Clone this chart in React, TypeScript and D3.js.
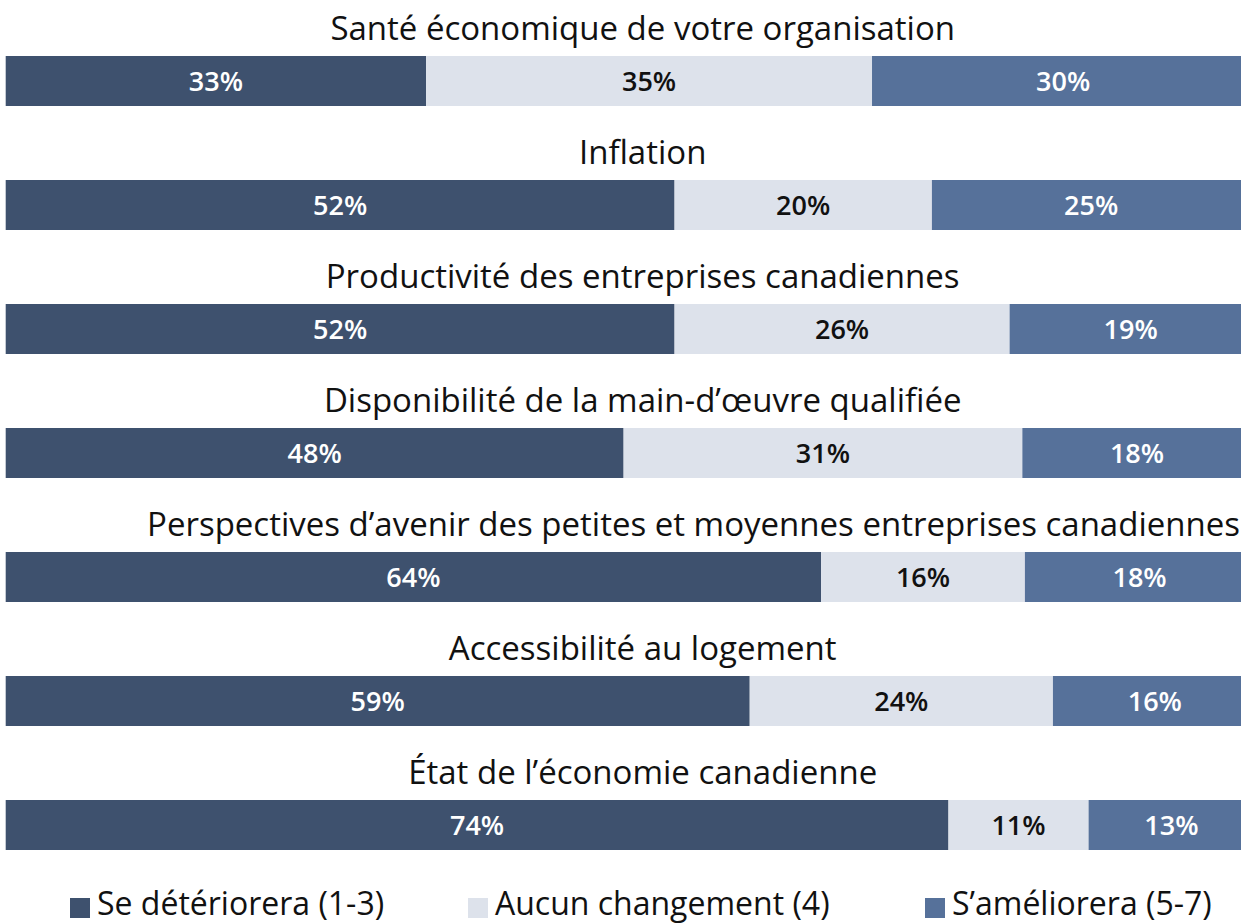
import React, { useEffect, useRef } from 'react';
import * as d3 from 'd3';

// survey items, top to bottom
const topics = [
  'Santé économique de votre organisation',
  'Inflation',
  'Productivité des entreprises canadiennes',
  'Disponibilité de la main-d’œuvre qualifiée',
  'Perspectives d’avenir des petites et moyennes entreprises canadiennes',
  'Accessibilité au logement',
  'État de l’économie canadienne',
];

const seriesNames = ['Se détériorera (1-3)', 'Aucun changement (4)', 'S’améliorera (5-7)'];

// shares (unrounded)
const worse = [33.0, 52.5, 52.5, 48.5, 64.0, 58.4, 74.0];
const same = [35.0, 20.2, 26.3, 31.3, 16.0, 23.8, 11.0];
const better = [30.0, 25.0, 19.0, 18.0, 18.0, 16.0, 13.0];

// printed labels
const worseLbl = ['33%', '52%', '52%', '48%', '64%', '59%', '74%'];
const sameLbl = ['35%', '20%', '26%', '31%', '16%', '24%', '11%'];
const betterLbl = ['30%', '25%', '19%', '18%', '18%', '16%', '13%'];

const colors = ['#3e516e', '#dde2eb', '#56719a'];
const labelColors = ['#ffffff', '#111111', '#ffffff'];

const W = 1241;
const H = 923;
const FONT = "'Open Sans', sans-serif";

const App = () => {
  const ref = useRef<SVGSVGElement | null>(null);

  useEffect(() => {
    if (!ref.current) return;
    const svg = d3.select(ref.current);
    svg.selectAll('*').remove();

    const x = d3.scaleLinear().domain([0, 100]).range([5.7, 1279.7]);
    const y = d3.scaleBand().domain(topics).range([0, 868]);
    const barTop = 56;
    const barH = 50;

    const rows = topics.map((t, i) => {
      const vals = [worse[i], same[i], better[i]];
      const lbls = [worseLbl[i], sameLbl[i], betterLbl[i]];
      let acc = 0;
      const segs = vals.map((v, k) => {
        const s = { x0: acc, x1: acc + v, label: lbls[k], k };
        acc += v;
        return s;
      });
      return { t, segs };
    });

    const g = svg.selectAll('g.row')
      .data(rows)
      .enter()
      .append('g')
      .attr('class', 'row')
      .attr('transform', d => `translate(0, ${y(d.t)})`);

    g.append('text')
      .attr('x', (x(0) + x(100)) / 2)
      .attr('y', barTop - 16)
      .attr('text-anchor', 'middle')
      .style('font-family', FONT)
      .style('font-size', '33px')
      .style('fill', '#111')
      .text(d => d.t)
      .each(function () {
        // very long titles sit flush with the right edge
        const w = (this as SVGTextElement).getComputedTextLength();
        if (w > 1000) d3.select(this).attr('x', W - 1).attr('text-anchor', 'end');
      });

    const seg = g.selectAll('g.seg')
      .data(d => d.segs)
      .enter()
      .append('g')
      .attr('class', 'seg');

    seg.append('rect')
      .attr('x', d => x(d.x0))
      .attr('y', barTop)
      .attr('width', d => x(d.x1) - x(d.x0))
      .attr('height', barH)
      .attr('fill', d => colors[d.k]);

    seg.append('text')
      .attr('x', d => (x(d.x0) + x(d.x1)) / 2)
      .attr('y', barTop + barH / 2)
      .attr('dy', '0.36em')
      .attr('text-anchor', 'middle')
      .style('font-family', FONT)
      .style('font-size', '27px')
      .style('font-weight', 600)
      .style('fill', d => labelColors[d.k])
      .text(d => d.label);

    // legend
    const legendX = [70, 468, 925];
    const lg = svg.append('g')
      .selectAll('g')
      .data(seriesNames)
      .enter()
      .append('g')
      .attr('transform', (d, i) => `translate(${legendX[i]}, 898)`);

    lg.append('rect')
      .attr('width', 20)
      .attr('height', 20)
      .attr('fill', (d, i) => colors[i]);

    lg.append('text')
      .attr('x', 27)
      .attr('y', 17)
      .style('font-family', FONT)
      .style('font-size', '32px')
      .style('fill', '#111')
      .text(d => d);
  }, []);

  return (
    <div style={{ position: 'absolute', left: 0, top: 0, background: '#fff' }}>
      <svg ref={ref} width={W} height={H} style={{ display: 'block', overflow: 'hidden' }} />
    </div>
  );
};

export default App;
